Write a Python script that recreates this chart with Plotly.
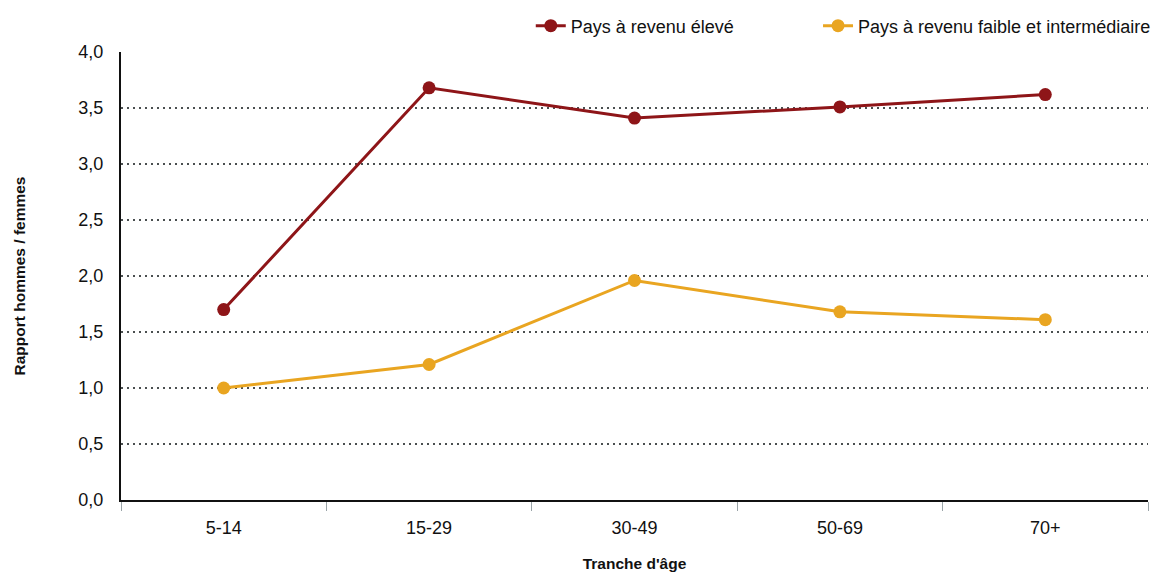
import plotly.graph_objects as go

categories = ["5-14", "15-29", "30-49", "50-69", "70+"]
high_income = [1.70, 3.68, 3.41, 3.51, 3.62]
low_mid_income = [1.00, 1.21, 1.96, 1.68, 1.61]
series_names = ["Pays à revenu élevé", "Pays à revenu faible et intermédiaire"]
y_ticks = [0, 0.5, 1, 1.5, 2, 2.5, 3, 3.5, 4]

RED = "#8E1518"
ORANGE = "#E9A521"
FONT = "Liberation Sans, Arial, Helvetica, sans-serif"

fig = go.Figure()
fig.add_trace(go.Scatter(
    x=categories, y=high_income, name=series_names[0], mode="lines+markers",
    line=dict(color=RED, width=3), marker=dict(color=RED, size=13),
    legend="legend",
))
fig.add_trace(go.Scatter(
    x=categories, y=low_mid_income, name=series_names[1], mode="lines+markers",
    line=dict(color=ORANGE, width=3), marker=dict(color=ORANGE, size=13),
    legend="legend2",
))

legend_common = dict(orientation="h", xanchor="left", y=1.058, yanchor="middle",
                     font=dict(size=18, color="#111111"), bgcolor="rgba(0,0,0,0)")

fig.update_layout(
    width=1152, height=572,
    margin=dict(l=121, r=4, t=52, b=72, autoexpand=False),
    paper_bgcolor="white", plot_bgcolor="white",
    separators=", ",
    font=dict(family=FONT, color="#111111", size=18),
    showlegend=True,
    legend=dict(x=0.399, **legend_common),
    legend2=dict(x=0.6787, **legend_common),
)
fig.update_xaxes(
    type="category", range=[-0.5, 4.5], automargin=False,
    showline=True, linecolor="#111111", linewidth=2,
    ticks="outside", tickson="boundaries", ticklen=9, tickcolor="#9aa4a8", tickwidth=1,
    showgrid=False, zeroline=False, ticklabelstandoff=10,
    tickfont=dict(size=18, color="#111111"),
    title=dict(text="<b>Tranche d'âge</b>", font=dict(size=15.5, color="#111111"), standoff=26),
)
fig.update_yaxes(
    range=[0, 4], tickvals=y_ticks, tickformat=".1f", automargin=False,
    showline=True, linecolor="#111111", linewidth=2,
    showgrid=True, gridcolor="#4a4f50", griddash="2px,4px", gridwidth=1.5,
    zeroline=False, ticks="", ticklabelstandoff=12,
    tickfont=dict(size=18, color="#111111"),
    title=dict(text="<b>Rapport hommes / femmes</b>", font=dict(size=15.5, color="#111111"), standoff=49),
)

fig.write_html("out.html", config={"displayModeBar": False},
               post_script="document.body.style.margin='0';")
